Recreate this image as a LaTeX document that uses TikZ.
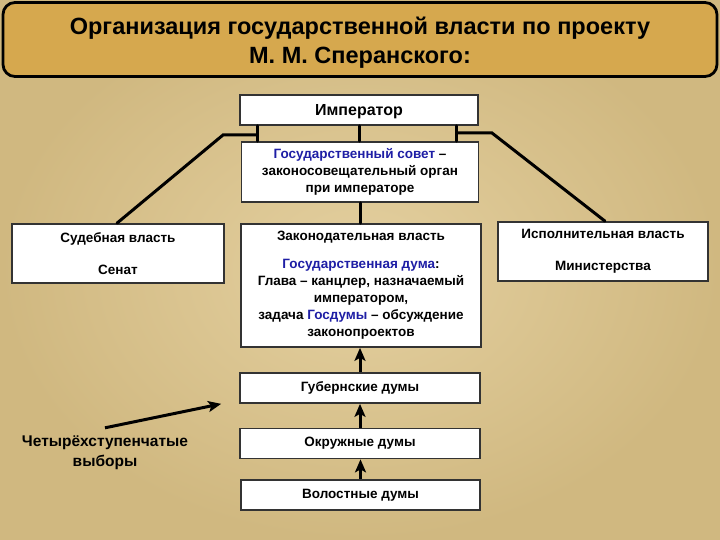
\documentclass[tikz,border=0pt]{standalone}
\usepackage{fontspec}
\setmainfont{Liberation Sans}
\usetikzlibrary{arrows.meta}
\definecolor{bgmid}{RGB}{228,208,160}
\definecolor{bgedge}{RGB}{208,184,128}
\definecolor{titlefill}{RGB}{214,168,78}
\definecolor{bluetxt}{RGB}{30,30,165}
\begin{document}
\begin{tikzpicture}[x=1pt,y=-1pt,
  box/.style={draw=black!80, line width=1.7pt, fill=white, align=center, inner sep=0pt,
    font=\bfseries\fontsize{13.5}{17}\selectfont},
  conn/.style={line width=3pt, line cap=round},
  arr/.style={line width=3pt, -{Stealth[length=13pt,width=11pt,inset=3pt]}},
  titlebox/.style={draw=black, line width=2.8pt, fill=titlefill, rounded corners=12pt, inner sep=0pt},
  titletext/.style={align=center, inner sep=0pt, font=\bfseries\fontsize{23.5}{29}\selectfont}]
\useasboundingbox (0,0) rectangle (720,540);
\shade[inner color=bgmid, outer color=bgedge] (0,0) rectangle (720,540);
% title
\node[titlebox, minimum width=714pt, minimum height=74pt] (title) at (360,39.5) {};
\node[titletext] (titletxt) at ([yshift=-3pt]title.center)
  {Организация государственной власти по проекту\\М. М. Сперанского:};
% boxes
\node[box, minimum width=238pt, minimum height=30pt, text height=11.5pt, text depth=0pt,
  font=\bfseries\fontsize{16}{19}\selectfont] (imp) at (359,110) {Император};
\node[box, minimum width=237pt, minimum height=60pt] (gs) at (360,172)
  {\textcolor{bluetxt}{Государственный совет} –\\законосовещательный орган\\при императоре};
\node[box, minimum width=212pt, minimum height=59pt] (sud) at (118,253.5)
  {Судебная власть\\[15pt]Сенат};
\node[box, minimum width=240pt, minimum height=123pt] (zak) at (361,285.5)
  {Законодательная власть\\[11pt]\textcolor{bluetxt}{Государственная дума}:\\Глава – канцлер, назначаемый\\императором,\\задача \textcolor{bluetxt}{Госдумы} – обсуждение\\законопроектов};
\node[box, minimum width=210pt, minimum height=59pt] (isp) at (603,251.5)
  {Исполнительная власть\\[15pt]Министерства};
\node[box, minimum width=240pt, minimum height=30pt] (gub) at (360,388) {Губернские думы};
\node[box, minimum width=240pt, minimum height=30pt] (okr) at (360,443.5) {Окружные думы};
\node[box, minimum width=239pt, minimum height=30pt] (vol) at (360.5,495) {Волостные думы};
\node[font=\bfseries\fontsize{15.5}{20}\selectfont, align=center, inner sep=0pt] (lab) at (105,453)
  {Четырёхступенчатые\\выборы};
% connectors from emperor
\coordinate (lv) at ([xshift=18pt]imp.south west);
\coordinate (rv) at ([xshift=-22pt]imp.south east);
\coordinate (lh) at (lv |- 0,135);
\coordinate (rh) at (rv |- 0,133);
\coordinate (lk) at (223,135);
\coordinate (rk) at (492,133);
\draw[conn] (lv) -- (lv |- gs.north);
\draw[conn] (rv) -- (rv |- gs.north);
\draw[conn] (imp.south) -- (imp.south |- gs.north);
\draw[conn] (lh) -- (lk) -- ([xshift=-1pt]sud.north);
\draw[conn] (rh) -- (rk) -- ([xshift=2pt]isp.north);
\draw[conn] (gs.south) -- (gs.south |- zak.north);
% arrows
\draw[arr] (gub.north) -- (gub.north |- zak.south);
\draw[arr] (okr.north) -- (okr.north |- gub.south);
\draw[arr] (vol.north) -- (vol.north |- okr.south);
\coordinate (labtip) at ([xshift=-18pt]gub.south west);
\draw[arr] ([yshift=8pt]lab.north) -- (labtip);
\end{tikzpicture}
\end{document}
